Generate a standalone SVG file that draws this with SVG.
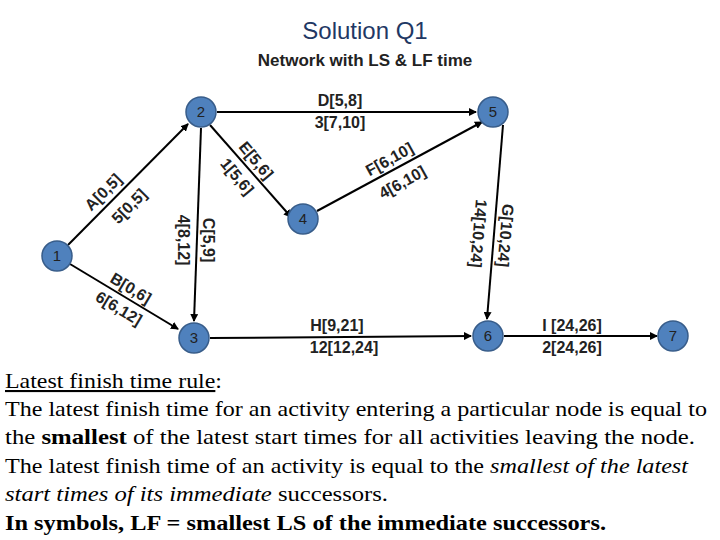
<svg xmlns="http://www.w3.org/2000/svg" width="720" height="540" viewBox="0 0 720 540">
<style>
.n{fill:#4f81bd;stroke:#385d8a;stroke-width:1.5}
.nt{font:15px "Liberation Sans",sans-serif;fill:#222;text-anchor:middle}
.e{stroke:#000;stroke-width:2;fill:none;marker-end:url(#a)}
.l{font:bold 16px "Liberation Sans",sans-serif;fill:#222;text-anchor:middle}
.b{font-family:"Liberation Serif",serif;font-size:21px;fill:#000}
</style>
<defs><marker id="a" markerWidth="8" markerHeight="8" refX="7" refY="4" orient="auto" markerUnits="userSpaceOnUse"><path d="M0,0L8,4L0,8z" fill="#000"/></marker></defs>
<rect width="720" height="540" fill="#fff"/>
<text x="365" y="39" font-family="Liberation Sans,sans-serif" font-size="24" fill="#1f3864" text-anchor="middle">Solution Q1</text>
<text x="365" y="66" font-family="Liberation Sans,sans-serif" font-size="17" font-weight="bold" fill="#222" text-anchor="middle">Network with LS &amp; LF time</text>
<g id="edges">
<line class="e" x1="68" y1="245" x2="188" y2="124"/>
<line class="e" x1="217" y1="112" x2="476" y2="112"/>
<line class="e" x1="210" y1="125" x2="291" y2="217"/>
<line class="e" x1="201" y1="128" x2="194" y2="321"/>
<line class="e" x1="70" y1="264" x2="178" y2="329"/>
<line class="e" x1="210" y1="338" x2="471" y2="336"/>
<line class="e" x1="317" y1="211" x2="482" y2="122"/>
<line class="e" x1="503" y1="125" x2="487" y2="319"/>
<line class="e" x1="504" y1="336" x2="657" y2="336"/>
<text class="l" transform="translate(107,196) rotate(-45)">A[0,5]</text>
<text class="l" transform="translate(133,210) rotate(-45)">5[0,5]</text>
<text class="l" x="340" y="106">D[5,8]</text>
<text class="l" x="340" y="128">3[7,10]</text>
<text class="l" transform="translate(252,164) rotate(50)">E[5,6]</text>
<text class="l" transform="translate(233,180) rotate(50)">1[5,6]</text>
<text class="l" transform="translate(203,240) rotate(90)">C[5,9]</text>
<text class="l" transform="translate(178,240) rotate(90)">4[8,12]</text>
<text class="l" transform="translate(128,293) rotate(31)">B[0,6]</text>
<text class="l" transform="translate(116,313) rotate(31)">6[6,12]</text>
<text class="l" transform="translate(392,164) rotate(-29)">F[6,10]</text>
<text class="l" transform="translate(405,187) rotate(-29)">4[6,10]</text>
<text class="l" transform="translate(500,235) rotate(95)">G[10,24]</text>
<text class="l" transform="translate(473,233) rotate(95)">14[10,24]</text>
<text class="l" x="337" y="331">H[9,21]</text>
<text class="l" x="344" y="353">12[12,24]</text>
<text class="l" x="572" y="331">I [24,26]</text>
<text class="l" x="572" y="353">2[24,26]</text>
</g>
<g id="n1"><circle class="n" cx="57" cy="256" r="15"/><text class="nt" x="57" y="261">1</text></g>
<g id="n2"><circle class="n" cx="201" cy="112" r="15"/><text class="nt" x="201" y="117">2</text></g>
<g id="n3"><circle class="n" cx="194" cy="338" r="15"/><text class="nt" x="194" y="343">3</text></g>
<g id="n4"><circle class="n" cx="303" cy="219" r="15"/><text class="nt" x="303" y="224">4</text></g>
<g id="n5"><circle class="n" cx="493" cy="112" r="15"/><text class="nt" x="493" y="117">5</text></g>
<g id="n6"><circle class="n" cx="488" cy="336" r="15"/><text class="nt" x="488" y="341">6</text></g>
<g id="n7"><circle class="n" cx="673" cy="336" r="15"/><text class="nt" x="673" y="341">7</text></g>
<g id="rule">
<text class="b" x="5" y="388" textLength="217" lengthAdjust="spacingAndGlyphs"><tspan text-decoration="underline">Latest finish time rule</tspan>:</text>
<text class="b" x="5" y="416" textLength="702" lengthAdjust="spacingAndGlyphs">The latest finish time for an activity entering a particular node is equal to</text>
<text class="b" x="5" y="444" textLength="690" lengthAdjust="spacingAndGlyphs">the <tspan font-weight="bold">smallest</tspan> of the latest start times for all activities leaving the node.</text>
<text class="b" x="5" y="473" textLength="683" lengthAdjust="spacingAndGlyphs">The latest finish time of an activity is equal to the <tspan font-style="italic">smallest of the latest</tspan></text>
<text class="b" x="5" y="501" textLength="383" lengthAdjust="spacingAndGlyphs"><tspan font-style="italic">start times of its immediate</tspan> successors.</text>
<text class="b" x="5" y="530" font-weight="bold" textLength="601" lengthAdjust="spacingAndGlyphs">In symbols, LF =  smallest LS of the immediate successors.</text>
</g>
</svg>
